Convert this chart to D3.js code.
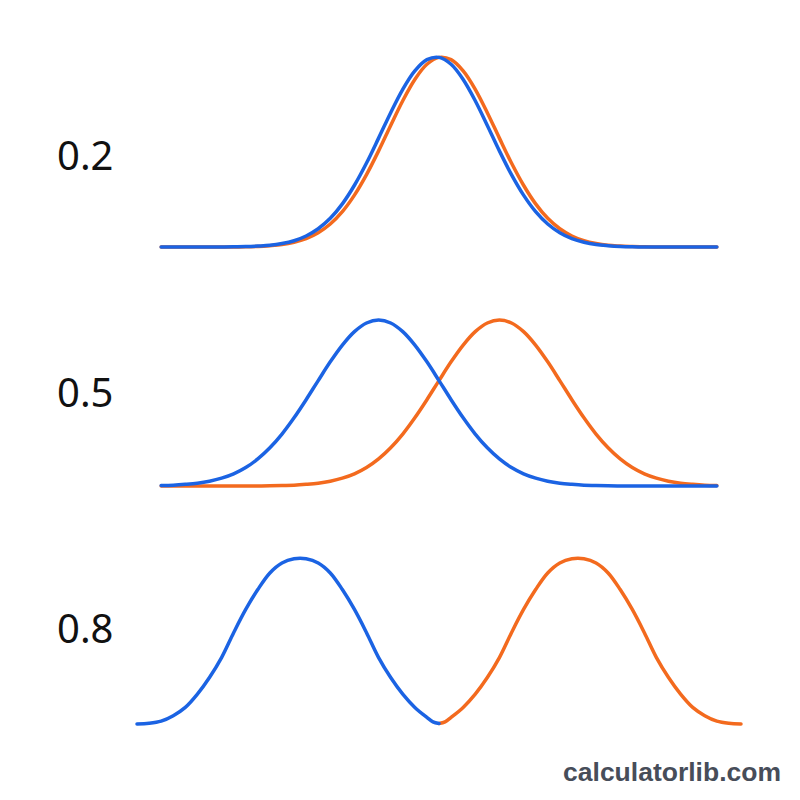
<!doctype html>
<html lang="en">
<head>
    <meta charset="UTF-8">
    <title>Overlap</title>
    <style>
        body { margin: 0; background: #fff; }
    </style>
</head>
<body>

<div class="canvas"></div>

<script src="https://d3js.org/d3.v7.min.js"></script>
<script>
    const svgWidth = 800;
    const svgHeight = 800;

    // row labels
    const rowLabels = ['0.2', '0.5', '0.8'];

    // x positions shared by rows 1 and 2
    const gridX = [-4.6, -4.4, -4.2, -4.0, -3.8, -3.6, -3.4, -3.2, -3.0, -2.8, -2.6, -2.4,
        -2.2, -2.0, -1.8, -1.6, -1.4, -1.2, -1.0, -0.8, -0.6, -0.4, -0.2, 0,
        0.2, 0.4, 0.6, 0.8, 1.0, 1.2, 1.4, 1.6, 1.8, 2.0, 2.2, 2.4,
        2.6, 2.8, 3.0, 3.2, 3.4, 3.6, 3.8, 4.0, 4.2, 4.4, 4.6];

    // row 1 (0.2)
    const row1Blue = [0, 0, 0, 0, 0, 0, 0.001, 0.002, 0.005, 0.009, 0.018, 0.033,
        0.058, 0.096, 0.151, 0.227, 0.325, 0.442, 0.573, 0.707, 0.830, 0.927, 0.986, 0.998,
        0.962, 0.882, 0.770, 0.640, 0.506, 0.381, 0.273, 0.186, 0.121, 0.075, 0.044, 0.025,
        0.013, 0.007, 0.003, 0.001, 0, 0, 0, 0, 0, 0, 0];
    const row1Orange = [0, 0, 0, 0, 0, 0, 0, 0.001, 0.003, 0.007, 0.013, 0.025,
        0.044, 0.075, 0.121, 0.186, 0.273, 0.381, 0.506, 0.640, 0.770, 0.882, 0.962, 0.998,
        0.986, 0.927, 0.830, 0.707, 0.573, 0.442, 0.325, 0.227, 0.151, 0.096, 0.058, 0.033,
        0.018, 0.009, 0.005, 0.002, 0.001, 0, 0, 0, 0, 0, 0];

    // row 2 (0.5)
    const row2Blue = [0.003, 0.005, 0.010, 0.017, 0.029, 0.047, 0.073, 0.111, 0.163, 0.230, 0.313, 0.411,
        0.520, 0.635, 0.748, 0.849, 0.930, 0.982, 1.000, 0.982, 0.930, 0.849, 0.748, 0.635,
        0.520, 0.411, 0.313, 0.230, 0.163, 0.111, 0.073, 0.047, 0.029, 0.017, 0.010, 0.005,
        0.003, 0.001, 0, 0, 0, 0, 0, 0, 0, 0, 0];
    const row2Orange = [0, 0, 0, 0, 0, 0, 0, 0, 0, 0.001, 0.003, 0.005,
        0.010, 0.017, 0.029, 0.047, 0.073, 0.111, 0.163, 0.230, 0.313, 0.411, 0.520, 0.635,
        0.748, 0.849, 0.930, 0.982, 1.000, 0.982, 0.930, 0.849, 0.748, 0.635, 0.520, 0.411,
        0.313, 0.230, 0.163, 0.111, 0.073, 0.047, 0.029, 0.017, 0.010, 0.005, 0.003];

    // row 3 (0.8) - the two curves meet in the middle
    const row3BlueX = [-5.0, -4.8, -4.6, -4.4, -4.2, -4.0, -3.8, -3.6, -3.4, -3.2, -3.0, -2.8, -2.6,
        -2.4, -2.2, -2.0, -1.8, -1.6, -1.4, -1.2, -1.0, -0.8, -0.6, -0.4, -0.2, -0.1, 0];
    const row3Blue = [0, 0.004, 0.017, 0.05, 0.10, 0.18, 0.28, 0.40, 0.55, 0.69, 0.81, 0.91, 0.97,
        0.995, 0.995, 0.97, 0.91, 0.81, 0.69, 0.55, 0.40, 0.28, 0.18, 0.10, 0.04, 0.013, 0.003];
    const row3OrangeX = [0, 0.1, 0.2, 0.4, 0.6, 0.8, 1.0, 1.2, 1.4, 1.6, 1.8, 2.0, 2.2, 2.4,
        2.6, 2.8, 3.0, 3.2, 3.4, 3.6, 3.8, 4.0, 4.2, 4.4, 4.6, 4.8, 5.0];
    const row3Orange = [0.003, 0.013, 0.04, 0.10, 0.18, 0.28, 0.40, 0.55, 0.69, 0.81, 0.91, 0.97, 0.995, 0.995,
        0.97, 0.91, 0.81, 0.69, 0.55, 0.40, 0.28, 0.18, 0.10, 0.05, 0.017, 0.004, 0];

    const blue = '#1b63e3';
    const orange = '#f36a1e';

    const svg = d3.select('.canvas').append('svg')
        .attr('width', svgWidth)
        .attr('height', svgHeight)
        .style('display', 'block');

    svg.append('rect')
        .attr('width', svgWidth)
        .attr('height', svgHeight)
        .attr('fill', '#fff');

    const x = d3.scaleLinear()
        .domain([-5, 5])
        .range([137, 741]);

    // each row: baseline / peak in pixels, label baseline
    const rows = [
        { label: rowLabels[0], base: 247, top: 57, labelY: 170,
          series: [ { xs: gridX, ys: row1Orange, color: orange }, { xs: gridX, ys: row1Blue, color: blue } ] },
        { label: rowLabels[1], base: 486, top: 320, labelY: 407,
          series: [ { xs: gridX, ys: row2Orange, color: orange }, { xs: gridX, ys: row2Blue, color: blue } ] },
        { label: rowLabels[2], base: 724, top: 558, labelY: 643,
          series: [ { xs: row3OrangeX, ys: row3Orange, color: orange }, { xs: row3BlueX, ys: row3Blue, color: blue } ] }
    ];

    rows.forEach((row) => {
        const y = d3.scaleLinear()
            .domain([0, 1])
            .range([row.base, row.top]);

        const line = d3.line()
            .x(d => x(d[0]))
            .y(d => y(d[1]))
            .curve(d3.curveCatmullRom.alpha(0.5));

        const g = svg.append('g');

        row.series.forEach((s) => {
            g.append('path')
                .datum(s.xs.map((v, i) => [v, s.ys[i]]))
                .attr('d', line)
                .attr('fill', 'none')
                .attr('stroke', s.color)
                .attr('stroke-width', 3.5)
                .attr('stroke-linecap', 'round')
                .attr('stroke-linejoin', 'round');
        });

        svg.append('text')
            .attr('x', 57)
            .attr('y', row.labelY)
            .attr('font-family', '"Noto Sans", "Open Sans", sans-serif')
            .attr('font-size', 40)
            .attr('fill', '#111')
            .text(row.label);
    });

    svg.append('text')
        .attr('x', 781)
        .attr('y', 781)
        .attr('text-anchor', 'end')
        .attr('font-family', '"Liberation Sans", Arial, sans-serif')
        .attr('font-weight', 'bold')
        .attr('font-size', 26.5)
        .attr('fill', '#474d59')
        .text('calculatorlib.com');
</script>
</body>
</html>
